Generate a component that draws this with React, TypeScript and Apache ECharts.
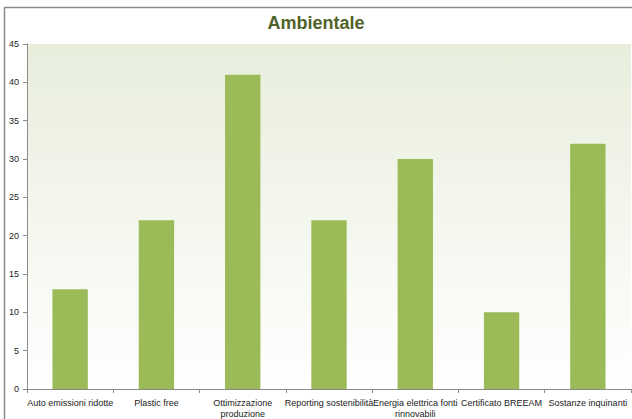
import React, { useEffect, useRef } from "react";
import * as echarts from "echarts";

const title = "Ambientale";
const categories = [
  "Auto emissioni ridotte",
  "Plastic free",
  "Ottimizzazione\nproduzione",
  "Reporting sostenibilità",
  "Energia elettrica fonti\nrinnovabili",
  "Certificato BREEAM",
  "Sostanze inquinanti",
];
const values = [13, 22, 41, 22, 30, 10, 32];
const yMin = 0;
const yMax = 45;
const yInterval = 5;

export default function App() {
  const ref = useRef<HTMLDivElement>(null);
  useEffect(() => {
    if (!ref.current) return;
    const chart = echarts.init(ref.current, null, { renderer: "svg" });
    chart.setOption({
      animation: false,
      backgroundColor: "#ffffff",
      title: {
        text: title,
        left: "center",
        top: 9,
        textStyle: {
          fontFamily: "Liberation Sans, Arial, sans-serif",
          fontSize: 18,
          fontWeight: "bold",
          color: "#4f6228",
        },
      },
      graphic: [
        {
          type: "line",
          shape: { x1: 4, y1: 7.5, x2: 632, y2: 7.5 },
          style: { stroke: "#8a8a8a", lineWidth: 1.5 },
          z: 100,
        },
        {
          type: "line",
          shape: { x1: 4.5, y1: 7, x2: 4.5, y2: 419 },
          style: { stroke: "#8a8a8a", lineWidth: 1.5 },
          z: 100,
        },
      ],
      grid: {
        left: 27,
        right: 1,
        top: 44,
        bottom: 29,
        show: true,
        borderWidth: 0,
        backgroundColor: new echarts.graphic.LinearGradient(0, 0, 0, 1, [
          { offset: 0, color: "#e8eedc" },
          { offset: 1, color: "#ffffff" },
        ]),
      },
      xAxis: {
        type: "category",
        data: categories,
        axisLine: { show: true, lineStyle: { color: "#8a8a8a", width: 1 } },
        axisTick: { show: true, alignWithLabel: false, length: 4, lineStyle: { color: "#8a8a8a" } },
        axisLabel: {
          interval: 0,
          margin: 8,
          fontSize: 9,
          lineHeight: 11,
          color: "#222",
          fontFamily: "Liberation Sans, Arial, sans-serif",
        },
      },
      yAxis: {
        type: "value",
        min: yMin,
        max: yMax,
        interval: yInterval,
        axisLine: { show: true, lineStyle: { color: "#8a8a8a", width: 1 } },
        axisTick: { show: true, length: 4, lineStyle: { color: "#8a8a8a" } },
        splitLine: { show: false },
        axisLabel: {
          margin: 8,
          fontSize: 9,
          color: "#222",
          fontFamily: "Liberation Sans, Arial, sans-serif",
        },
      },
      series: [
        {
          type: "bar",
          data: values,
          barCategoryGap: "59%",
          itemStyle: { color: "#9bbb59" },
        },
      ],
    });
    return () => chart.dispose();
  }, []);
  return (
    <div
      ref={ref}
      style={{ position: "absolute", left: 0, top: 0, width: 632, height: 419 }}
    />
  );
}
